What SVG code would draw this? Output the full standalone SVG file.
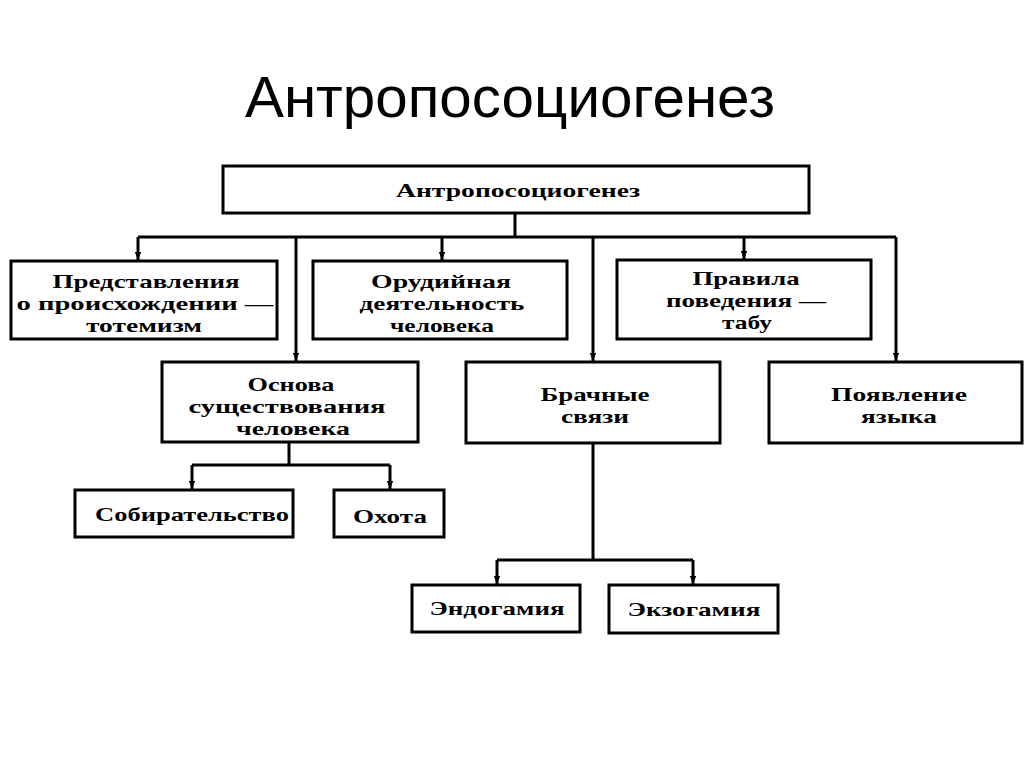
<svg xmlns="http://www.w3.org/2000/svg" width="1024" height="767" viewBox="0 0 1024 767">
<style>
.box{fill:#fff;stroke:#000;stroke-width:3}
.t{font-family:"Liberation Serif",serif;font-weight:bold;font-size:19px;fill:#000;text-anchor:middle}
.ln{fill:none;stroke:#000;stroke-width:3}
.title{font-family:"Liberation Sans",Arial,sans-serif;font-size:58px;fill:#000;text-anchor:middle}
</style>
<defs>
<marker id="ar" viewBox="0 0 10 10" refX="10" refY="5" markerWidth="9" markerHeight="8" markerUnits="userSpaceOnUse" orient="auto">
<path d="M0,1 L10,5 L0,9 z" fill="#000"/>
</marker>
</defs>
<rect width="1024" height="767" fill="#fff"/>
<text class="title" x="510" y="117" textLength="530" lengthAdjust="spacingAndGlyphs">Антропосоциогенез</text>

<g id="connectors">
<path class="ln" d="M515,213 V237"/>
<path class="ln" d="M138,237 H896"/>
<path class="ln" d="M138,237 V260" marker-end="url(#ar)"/>
<path class="ln" d="M296,237 V361" marker-end="url(#ar)"/>
<path class="ln" d="M442,237 V260" marker-end="url(#ar)"/>
<path class="ln" d="M593,237 V361" marker-end="url(#ar)"/>
<path class="ln" d="M744,237 V259" marker-end="url(#ar)"/>
<path class="ln" d="M896,237 V361" marker-end="url(#ar)"/>
<path class="ln" d="M289,442 V465"/>
<path class="ln" d="M192,465 H390"/>
<path class="ln" d="M192,465 V489" marker-end="url(#ar)"/>
<path class="ln" d="M390,465 V489" marker-end="url(#ar)"/>
<path class="ln" d="M593,443 V560"/>
<path class="ln" d="M497,560 H693"/>
<path class="ln" d="M497,560 V584" marker-end="url(#ar)"/>
<path class="ln" d="M693,560 V584" marker-end="url(#ar)"/>
</g>

<g id="root">
<rect class="box" x="223" y="166" width="586" height="47"/>
<text class="t" x="518" y="197" textLength="244" lengthAdjust="spacingAndGlyphs">Антропосоциогенез</text>
</g>
<g id="totemism">
<rect class="box" x="11" y="261" width="266" height="78"/>
<text class="t" x="146" y="288" textLength="187" lengthAdjust="spacingAndGlyphs">Представления</text>
<text class="t" x="145" y="310" textLength="257" lengthAdjust="spacingAndGlyphs">о происхождении —</text>
<text class="t" x="144" y="332" textLength="116" lengthAdjust="spacingAndGlyphs">тотемизм</text>
</g>
<g id="tools">
<rect class="box" x="313" y="261" width="254" height="78"/>
<text class="t" x="441" y="288" textLength="140" lengthAdjust="spacingAndGlyphs">Орудийная</text>
<text class="t" x="442" y="310" textLength="165" lengthAdjust="spacingAndGlyphs">деятельность</text>
<text class="t" x="442" y="332" textLength="104" lengthAdjust="spacingAndGlyphs">человека</text>
</g>
<g id="taboo">
<rect class="box" x="617" y="260" width="254" height="79"/>
<text class="t" x="746" y="285" textLength="107" lengthAdjust="spacingAndGlyphs">Правила</text>
<text class="t" x="746" y="307" textLength="160" lengthAdjust="spacingAndGlyphs">поведения —</text>
<text class="t" x="747" y="329" textLength="50" lengthAdjust="spacingAndGlyphs">табу</text>
</g>
<g id="basis">
<rect class="box" x="162" y="362" width="256" height="80"/>
<text class="t" x="291" y="391" textLength="87" lengthAdjust="spacingAndGlyphs">Основа</text>
<text class="t" x="287" y="413" textLength="197" lengthAdjust="spacingAndGlyphs">существования</text>
<text class="t" x="293" y="435" textLength="114" lengthAdjust="spacingAndGlyphs">человека</text>
</g>
<g id="marriage">
<rect class="box" x="466" y="362" width="254" height="81"/>
<text class="t" x="595" y="401" textLength="109" lengthAdjust="spacingAndGlyphs">Брачные</text>
<text class="t" x="595" y="423" textLength="68" lengthAdjust="spacingAndGlyphs">связи</text>
</g>
<g id="language">
<rect class="box" x="769" y="362" width="253" height="81"/>
<text class="t" x="899" y="401" textLength="136" lengthAdjust="spacingAndGlyphs">Появление</text>
<text class="t" x="899" y="423" textLength="76" lengthAdjust="spacingAndGlyphs">языка</text>
</g>
<g id="gathering">
<rect class="box" x="75" y="490" width="218" height="47"/>
<text class="t" x="192" y="521" textLength="194" lengthAdjust="spacingAndGlyphs">Собирательство</text>
</g>
<g id="hunting">
<rect class="box" x="334" y="490" width="110" height="47"/>
<text class="t" x="390" y="523" textLength="74" lengthAdjust="spacingAndGlyphs">Охота</text>
</g>
<g id="endogamy">
<rect class="box" x="412" y="585" width="168" height="47"/>
<text class="t" x="497" y="615" textLength="135" lengthAdjust="spacingAndGlyphs">Эндогамия</text>
</g>
<g id="exogamy">
<rect class="box" x="609" y="585" width="169" height="48"/>
<text class="t" x="694" y="616" textLength="133" lengthAdjust="spacingAndGlyphs">Экзогамия</text>
</g>
</svg>
